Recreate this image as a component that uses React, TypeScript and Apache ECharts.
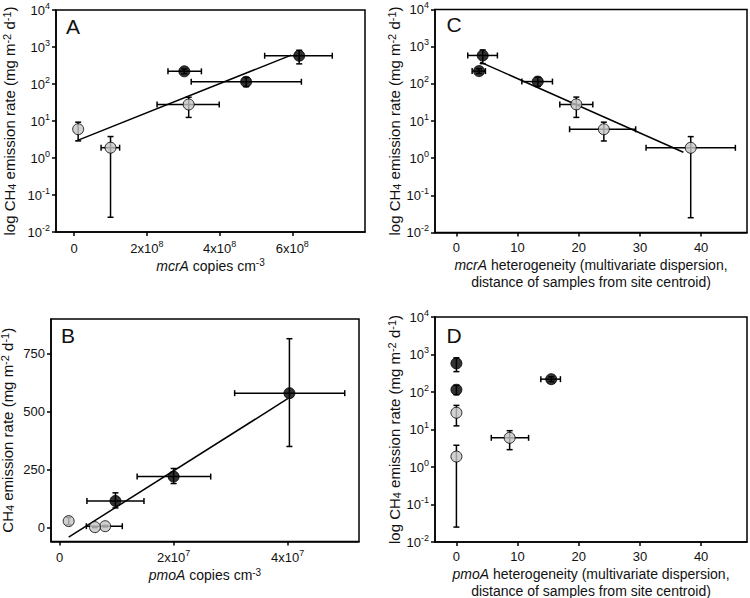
import React, { useEffect, useRef } from 'react';
import * as echarts from 'echarts';

// Sites: 3 gray (low-emission) and 3 black (high-emission)
const groups = ['gray', 'gray', 'gray', 'black', 'black', 'black'];
const flux = [6, 1.9, 28, 220, 115, 580];
const fluxLo = [2.9, 0.025, 12.5, 190, 85, 350];
const fluxHi = [9.3, 3.8, 44, 255, 150, 815];

const mcrA = [0.11e8, 1.0e8, 3.15e8, 3.03e8, 4.73e8, 6.19e8];
const mcrALo = [0.11e8, 0.74e8, 2.28e8, 2.58e8, 3.22e8, 5.24e8];
const mcrAHi = [0.11e8, 1.25e8, 3.99e8, 3.5e8, 6.25e8, 7.1e8];

const pmoA = [0.8e7, 0.62e7, 0.16e7, 2.0e7, 0.98e7, 4.03e7];
const pmoALo = [0.47e7, 0.62e7, 0.16e7, 1.36e7, 0.48e7, 3.07e7];
const pmoAHi = [1.1e7, 0.62e7, 0.16e7, 2.65e7, 1.48e7, 5.0e7];

const mcrAHet = [24.1, 38.3, 19.6, 3.7, 13.3, 4.3];
const mcrAHetLo = [18.5, 31.0, 16.9, 2.57, 10.7, 1.85];
const mcrAHetHi = [29.3, 45.6, 22.3, 4.74, 15.7, 6.7];

const pmoAHet = [8.7, 0, 0, 15.5, 0, 0];
const pmoAHetLo = [5.7, 0, 0, 13.8, 0, 0];
const pmoAHetHi = [11.8, 0, 0, 17.0, 0, 0];

const fitA = [[0.06e8, 2.9], [5.97e8, 605]];
const fitB = [[0.16e7, -41], [4.0e7, 556]];
const fitC = [[3.9, 385], [37.1, 1.44]];

const mcrATicks = [0, 2e8, 4e8, 6e8];
const pmoATicks = [0, 2e7, 4e7];
const hetTicks = [0, 10, 20, 30, 40];
const linFluxTicks = [0, 250, 500, 750];

const FONT = "'Liberation Sans', Arial, Helvetica, sans-serif";

const supRich = {
  sup: { fontSize: 9, verticalAlign: 'top', lineHeight: 9, fontFamily: FONT, color: '#111' },
};

const nameRich = {
  sup: { fontSize: 10, verticalAlign: 'top', lineHeight: 10, fontFamily: FONT, color: '#111' },
  sub: { fontSize: 10, verticalAlign: 'bottom', lineHeight: 10, fontFamily: FONT, color: '#111' },
  i: { fontSize: 14, fontStyle: 'italic', fontFamily: FONT, color: '#111', lineHeight: 16 },
};

const yNameRich = {
  sup: { fontSize: 11, verticalAlign: 'top', lineHeight: 10, fontFamily: FONT, color: '#111' },
  sub: { fontSize: 11, verticalAlign: 'bottom', lineHeight: 10, fontFamily: FONT, color: '#111' },
};

const logName = 'log CH{sub|4} emission rate (mg m{sup|-2} d{sup|-1})';
const linName = 'CH{sub|4} emission rate (mg m{sup|-2} d{sup|-1})';

function errRender(params: any, api: any) {
  const y = api.value(1);
  const x = api.value(0);
  const xl = api.value(2), xh = api.value(3), yl = api.value(4), yh = api.value(5);
  const style = { stroke: '#000', lineWidth: 1.5, fill: null };
  const cap = 3;
  const ch: any[] = [];
  const ln = (x1: number, y1: number, x2: number, y2: number) =>
    ch.push({ type: 'line', shape: { x1, y1, x2, y2 }, style });
  if (xh > xl) {
    const a = api.coord([xl, y]);
    const b = api.coord([xh, y]);
    ln(a[0], a[1], b[0], b[1]);
    ln(a[0], a[1] - cap, a[0], a[1] + cap);
    ln(b[0], b[1] - cap, b[0], b[1] + cap);
  }
  if (yh > yl) {
    const a = api.coord([x, yl]);
    const b = api.coord([x, yh]);
    ln(a[0], a[1], b[0], b[1]);
    ln(a[0] - cap, a[1], a[0] + cap, a[1]);
    ln(b[0] - cap, b[1], b[0] + cap, b[1]);
  }
  return { type: 'group', children: ch };
}

function buildRows(xs: number[], xl: number[], xh: number[]) {
  return xs.map((x, i) => [x, flux[i], xl[i], xh[i], fluxLo[i], fluxHi[i]]);
}

function scatterData(xs: number[]) {
  return xs.map((x, i) => ({
    value: [x, flux[i]],
    itemStyle: {
      color: groups[i] === 'gray' ? '#c6c6c6' : '#000',
      borderColor: '#000',
      borderWidth: 1,
    },
  }));
}

const axisCommon = {
  axisLine: { show: true, onZero: false, lineStyle: { color: '#000', width: 1.5 } },
  axisTick: { show: true, inside: false, length: 4, lineStyle: { color: '#000', width: 1.5 } },
  splitLine: { show: false },
};

function logY(gridIndex: number, gap: number) {
  return {
    type: 'log',
    logBase: 10,
    gridIndex,
    min: 0.01,
    max: 10000,
    ...axisCommon,
    axisLabel: {
      margin: 6,
      fontSize: 13,
      fontFamily: FONT,
      color: '#111',
      lineHeight: 18,
      formatter: (v: number) => `10{sup|${Math.round(Math.log10(v))}}`,
      rich: supRich,
    },
    name: logName,
    nameLocation: 'middle',
    nameRotate: 90,
    nameGap: gap,
    nameTextStyle: { fontSize: 15, fontFamily: FONT, color: '#111', lineHeight: 16, rich: yNameRich },
  };
}

function sciLabel(exp: number) {
  return (v: number) => (v === 0 ? '0' : `${Math.round(v / Math.pow(10, exp))}x10{sup|${exp}}`);
}

export default function App() {
  const ref = useRef<HTMLDivElement>(null);
  useEffect(() => {
    if (!ref.current) return;
    const chart = echarts.init(ref.current, undefined, { renderer: 'svg' });
    const gridBase = { show: true, borderColor: '#000', borderWidth: 1.5, backgroundColor: 'transparent', containLabel: false, outerBoundsMode: 'none' };
    const twoLineRich = { ...nameRich, i: { ...nameRich.i, lineHeight: 17 } };
    const option: any = {
      animation: false,
      backgroundColor: '#fff',
      textStyle: { fontFamily: FONT },
      grid: [
        { ...gridBase, left: 56, top: 10, width: 309, height: 222 },
        { ...gridBase, left: 51, top: 319, width: 308, height: 222.5 },
        { ...gridBase, left: 435, top: 9.5, width: 312, height: 223 },
        { ...gridBase, left: 435, top: 317, width: 312, height: 225 },
      ],
      xAxis: [
        {
          type: 'value', gridIndex: 0, min: -0.5e8, max: 8e8, ...axisCommon,
          axisTick: { ...axisCommon.axisTick, customValues: mcrATicks },
          axisLabel: { customValues: mcrATicks, margin: 7, fontSize: 13, fontFamily: FONT, color: '#111', lineHeight: 18, formatter: sciLabel(8), rich: supRich },
          name: '{i|mcrA} copies cm{sup|-3}', nameLocation: 'middle', nameGap: 24,
          nameTextStyle: { fontSize: 14, fontFamily: FONT, color: '#111', lineHeight: 16, rich: nameRich },
        },
        {
          type: 'value', gridIndex: 1, min: -0.15e7, max: 5.25e7, ...axisCommon,
          axisTick: { ...axisCommon.axisTick, customValues: pmoATicks },
          axisLabel: { customValues: pmoATicks, margin: 7, fontSize: 13, fontFamily: FONT, color: '#111', lineHeight: 18, formatter: sciLabel(7), rich: supRich },
          name: '{i|pmoA} copies cm{sup|-3}', nameLocation: 'middle', nameGap: 24,
          nameTextStyle: { fontSize: 14, fontFamily: FONT, color: '#111', lineHeight: 16, rich: nameRich },
        },
        {
          type: 'value', gridIndex: 2, min: -3.5, max: 47.5, ...axisCommon,
          axisTick: { ...axisCommon.axisTick, customValues: hetTicks },
          axisLabel: { customValues: hetTicks, margin: 8, fontSize: 13, fontFamily: FONT, color: '#111' },
          name: '{i|mcrA} heterogeneity (multivariate dispersion,\ndistance of samples from site centroid)',
          nameLocation: 'middle', nameGap: 24,
          nameTextStyle: { fontSize: 14, fontFamily: FONT, color: '#111', lineHeight: 17, rich: twoLineRich },
        },
        {
          type: 'value', gridIndex: 3, min: -3.5, max: 47.5, ...axisCommon,
          axisTick: { ...axisCommon.axisTick, customValues: hetTicks },
          axisLabel: { customValues: hetTicks, margin: 8, fontSize: 13, fontFamily: FONT, color: '#111' },
          name: '{i|pmoA} heterogeneity (multivariate dispersion,\ndistance of samples from site centroid)',
          nameLocation: 'middle', nameGap: 23,
          nameTextStyle: { fontSize: 14, fontFamily: FONT, color: '#111', lineHeight: 17, rich: twoLineRich },
        },
      ],
      yAxis: [
        logY(0, 39),
        {
          type: 'value', gridIndex: 1, min: -60, max: 900, ...axisCommon,
          axisTick: { ...axisCommon.axisTick, customValues: linFluxTicks },
          axisLabel: { customValues: linFluxTicks, margin: 6, fontSize: 13, fontFamily: FONT, color: '#111' },
          name: linName, nameLocation: 'middle', nameRotate: 90, nameGap: 36,
          nameTextStyle: { fontSize: 15, fontFamily: FONT, color: '#111', lineHeight: 16, rich: yNameRich },
        },
        logY(2, 32),
        logY(3, 32),
      ],
      graphic: [
        { type: 'text', x: 73, y: 26, style: { text: 'A', fontSize: 21, fontFamily: FONT, fill: '#111', align: 'center', verticalAlign: 'middle', textAlign: 'center', textVerticalAlign: 'middle' } },
        { type: 'text', x: 68, y: 335, style: { text: 'B', fontSize: 21, fontFamily: FONT, fill: '#111', align: 'center', verticalAlign: 'middle', textAlign: 'center', textVerticalAlign: 'middle' } },
        { type: 'text', x: 454, y: 24, style: { text: 'C', fontSize: 21, fontFamily: FONT, fill: '#111', align: 'center', verticalAlign: 'middle', textAlign: 'center', textVerticalAlign: 'middle' } },
        { type: 'text', x: 454, y: 335, style: { text: 'D', fontSize: 21, fontFamily: FONT, fill: '#111', align: 'center', verticalAlign: 'middle', textAlign: 'center', textVerticalAlign: 'middle' } },
      ],
      series: [] as any[],
    };

    const panels = [
      { xs: mcrA, xl: mcrALo, xh: mcrAHi, fit: fitA },
      { xs: pmoA, xl: pmoALo, xh: pmoAHi, fit: fitB },
      { xs: mcrAHet, xl: mcrAHetLo, xh: mcrAHetHi, fit: fitC },
      { xs: pmoAHet, xl: pmoAHetLo, xh: pmoAHetHi, fit: null as any },
    ];
    panels.forEach((p, idx) => {
      option.series.push({
        type: 'custom',
        xAxisIndex: idx,
        yAxisIndex: idx,
        renderItem: errRender,
        encode: { x: [0, 2, 3], y: [1, 4, 5] },
        data: buildRows(p.xs, p.xl, p.xh),
        z: 2,
        silent: true,
      });
      if (p.fit) {
        option.series.push({
          type: 'line',
          xAxisIndex: idx,
          yAxisIndex: idx,
          data: p.fit,
          showSymbol: false,
          symbol: 'none',
          lineStyle: { color: '#000', width: 1.5 },
          z: 3,
          silent: true,
        });
      }
      option.series.push({
        type: 'scatter',
        xAxisIndex: idx,
        yAxisIndex: idx,
        symbol: 'circle',
        symbolSize: 11,
        data: scatterData(p.xs),
        z: 4,
        silent: true,
      });
    });

    chart.setOption(option);
    return () => chart.dispose();
  }, []);
  return <div ref={ref} style={{ position: 'absolute', left: 0, top: 0, width: 750, height: 598, background: '#fff' }} />;
}
